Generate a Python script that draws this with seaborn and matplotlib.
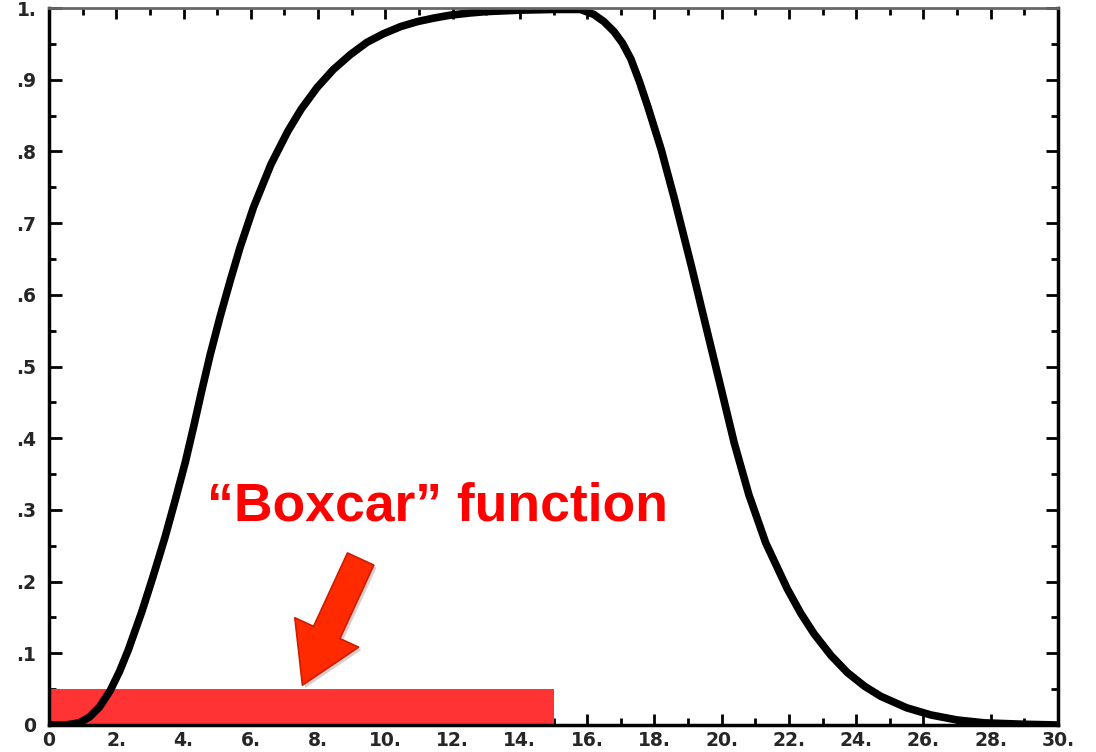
import numpy as np
import pandas as pd
import matplotlib
matplotlib.use("Agg")
import matplotlib.pyplot as plt
import matplotlib.patheffects as pe
from matplotlib.patches import FancyArrowPatch
from matplotlib.ticker import MultipleLocator, FixedLocator, FixedFormatter
import seaborn as sns

# Response curve samples
curve_x = [0.0, 0.5, 0.9, 1.2, 1.5, 1.82, 2.1, 2.36, 2.76, 3.1, 3.45, 3.75,
           4.05, 4.3, 4.54, 4.79, 5.09, 5.39, 5.68, 6.08, 6.6, 7.1, 7.5, 7.97,
           8.45, 8.96, 9.45, 9.94, 10.45, 10.95, 11.45, 11.93, 12.5, 13.0,
           14.0, 15.0, 15.8, 16.2, 16.5, 16.8, 17.05, 17.3, 17.55, 17.8, 18.2,
           18.6, 19.1, 19.6, 20.0, 20.37, 20.81, 21.31, 21.95, 22.35, 22.75,
           23.25, 23.74, 24.25, 24.73, 25.5, 26.22, 27.0, 27.8, 29.0, 30.0]
curve_y = [0.0, 0.0, 0.003, 0.011, 0.025, 0.048, 0.075, 0.105, 0.158, 0.208,
           0.262, 0.313, 0.366, 0.416, 0.466, 0.516, 0.570, 0.620, 0.666, 0.722,
           0.782, 0.828, 0.859, 0.889, 0.914, 0.935, 0.952, 0.964, 0.974, 0.981,
           0.986, 0.990, 0.993, 0.995, 0.997, 0.998, 0.998, 0.991, 0.981, 0.967,
           0.951, 0.929, 0.898, 0.863, 0.803, 0.733, 0.640, 0.543, 0.466, 0.394,
           0.321, 0.254, 0.190, 0.156, 0.127, 0.097, 0.073, 0.054, 0.040, 0.024,
           0.014, 0.007, 0.003, 0.001, 0.0]

# Boxcar window
boxcar_start = 0.0
boxcar_end = 15.0
boxcar_height = 0.05

# Tick labels
x_ticks = [0, 2, 4, 6, 8, 10, 12, 14, 16, 18, 20, 22, 24, 26, 28, 30]
x_labels = ["0", "2.", "4.", "6.", "8.", "10.", "12.", "14.", "16.", "18.",
            "20.", "22.", "24.", "26.", "28.", "30."]
y_ticks = [0.0, 0.1, 0.2, 0.3, 0.4, 0.5, 0.6, 0.7, 0.8, 0.9, 1.0]
y_labels = ["0", ".1", ".2", ".3", ".4", ".5", ".6", ".7", ".8", ".9", "1."]

annotation_text = "\u201cBoxcar\u201d function"

sns.set_style("ticks")
plt.rcParams["font.family"] = ["DejaVu Sans"]

fig = plt.figure(figsize=(10.96, 7.52), dpi=100)
ax = fig.add_axes([49 / 1096, 27 / 752, (1058 - 49) / 1096, (725 - 8) / 752])

# Boxcar bar
ax.bar([boxcar_start], [boxcar_height], width=boxcar_end - boxcar_start,
       align="edge", color="#ff3333", edgecolor="none", zorder=1)

df = pd.DataFrame({"x": curve_x, "y": curve_y})
sns.lineplot(data=df, x="x", y="y", ax=ax, color="black", linewidth=5.5,
             zorder=3, solid_capstyle="round", solid_joinstyle="round")

ax.set_xlim(0, 30)
ax.set_ylim(0, 1.0)
ax.set_xlabel("")
ax.set_ylabel("")

ax.xaxis.set_major_locator(FixedLocator(x_ticks))
ax.xaxis.set_major_formatter(FixedFormatter(x_labels))
ax.xaxis.set_minor_locator(MultipleLocator(1))
ax.yaxis.set_major_locator(FixedLocator(y_ticks))
ax.yaxis.set_major_formatter(FixedFormatter(y_labels))
ax.yaxis.set_minor_locator(MultipleLocator(0.05))

ax.tick_params(which="both", direction="in", top=True, right=True,
               color="black", width=2, labelsize=13.5, zorder=5)
ax.tick_params(axis="y", which="major", length=9, pad=9)
ax.tick_params(axis="x", which="major", length=8, pad=4)
ax.tick_params(which="minor", length=5)
for lbl in ax.get_xticklabels() + ax.get_yticklabels():
    lbl.set_fontweight("bold")

for side, spine in ax.spines.items():
    spine.set_visible(True)
    spine.set_linewidth(2.5)
    spine.set_color("black")
    spine.set_zorder(4)
ax.spines["top"].set_color("#666666")
ax.spines["top"].set_linewidth(2)

# Label and pointer
ax.text(11.55, 0.305, annotation_text, color="#ff0000", fontsize=38.5,
        fontweight="bold", family=["Liberation Sans", "DejaVu Sans"],
        ha="center", va="center", zorder=6)

arrow = FancyArrowPatch((9.3, 0.235), (7.5, 0.052),
                        arrowstyle="simple,head_length=1.9,head_width=2.3,tail_width=0.95",
                        mutation_scale=22, color="#ff2a00", ec="#d01c00",
                        linewidth=1.2, joinstyle="round", capstyle="round", zorder=6,
                        path_effects=[pe.SimplePatchShadow(offset=(2, -2), alpha=0.2),
                                      pe.Normal()])
ax.add_patch(arrow)

fig.savefig("out.png", dpi=100, facecolor="white")
